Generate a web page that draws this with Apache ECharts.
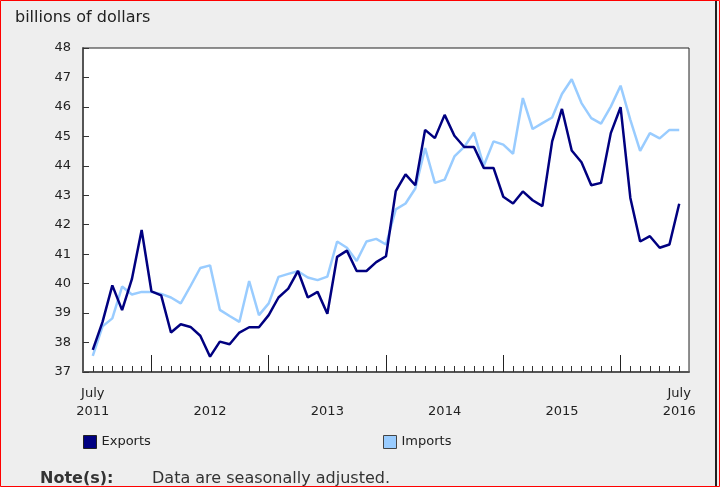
<!DOCTYPE html>
<html>
<head>
<meta charset="utf-8">
<title>Exports and imports</title>
<script src="https://cdn.jsdelivr.net/npm/echarts@6/dist/echarts.min.js"></script>
<style>
  html, body { margin: 0; padding: 0; background: #eeeeee; }
  #chart { width: 720px; height: 487px; }
</style>
</head>
<body>
<div id="chart"></div>
<script>
// monthly, July 2011 .. July 2016 (index 0 .. 60)
const exportsData = [
  37.75, 38.7, 39.94, 39.1, 40.15, 41.82, 39.74, 39.6, 38.34, 38.62, 38.53, 38.23,
  37.52, 38.03, 37.94, 38.34, 38.52, 38.52, 38.93, 39.53, 39.83, 40.43, 39.53, 39.72,
  38.98, 40.91, 41.12, 40.43, 40.43, 40.73, 40.93, 43.14, 43.71, 43.34, 45.22, 44.94,
  45.73, 45.02, 44.64, 44.64, 43.93, 43.93, 42.95, 42.72, 43.13, 42.83, 42.63, 44.83,
  45.93, 44.52, 44.12, 43.34, 43.42, 45.11, 45.99, 42.91, 41.43, 41.61, 41.22, 41.33,
  42.71
];
const importsData = [
  37.55, 38.55, 38.82, 39.9, 39.63, 39.72, 39.72, 39.65, 39.53, 39.33, 39.92, 40.53,
  40.62, 39.11, 38.9, 38.7, 40.09, 38.93, 39.33, 40.23, 40.33, 40.42, 40.21, 40.12,
  40.24, 41.43, 41.22, 40.77, 41.43, 41.52, 41.33, 42.52, 42.72, 43.23, 44.6, 43.42,
  43.53, 44.32, 44.64, 45.13, 44.0, 44.83, 44.72, 44.41, 46.3, 45.25, 45.45, 45.64,
  46.44, 46.94, 46.13, 45.62, 45.43, 46.01, 46.72, 45.56, 44.51, 45.11, 44.93, 45.22,
  45.22
];

// x tick positions (month index)
const monthTicks = exportsData.map((v, i) => i);
const januaryTicks = [6, 18, 30, 42, 54];
const labelPositions = [0, 12, 24, 36, 48, 60];
const labelTexts = ['July\n2011', '\n2012', '\n2013', '\n2014', '\n2015', 'July\n2016'];

const chart = echarts.init(document.getElementById('chart'));
const font = 'DejaVu Sans, Verdana, sans-serif';

const option = {
  backgroundColor: '#eeeeee',
  animation: false,
  textStyle: { fontFamily: font },
  title: {
    text: 'billions of dollars',
    left: 15,
    top: 10,
    padding: 0,
    textStyle: { fontFamily: font, fontSize: 16, fontWeight: 'normal', color: '#222' }
  },
  grid: {
    left: 83, top: 48, width: 606, height: 324,
    show: true, backgroundColor: '#ffffff', borderColor: '#222', borderWidth: 1
  },
  legend: [
    {
      left: 83, top: 435, padding: 0, itemWidth: 13, itemHeight: 13, itemGap: 6,
      icon: 'rect', data: ['Exports'],
      itemStyle: { borderColor: '#222', borderWidth: 1 },
      textStyle: { fontFamily: font, fontSize: 13, color: '#222' }
    },
    {
      left: 383, top: 435, padding: 0, itemWidth: 13, itemHeight: 13, itemGap: 6,
      icon: 'rect', data: ['Imports'],
      itemStyle: { borderColor: '#444', borderWidth: 1 },
      textStyle: { fontFamily: font, fontSize: 13, color: '#222' }
    }
  ],
  xAxis: [
    {
      type: 'value', min: -1, max: 61, position: 'bottom',
      splitLine: { show: false },
      axisLine: { onZero: false, lineStyle: { color: '#555', width: 2 } },
      axisTick: { inside: true, length: 6, customValues: monthTicks, lineStyle: { color: '#333' } },
      axisLabel: {
        customValues: labelPositions,
        formatter: (v) => labelTexts[labelPositions.indexOf(v)],
        margin: 13, lineHeight: 18, fontSize: 13, color: '#222', fontFamily: font
      }
    },
    {
      type: 'value', min: -1, max: 61, position: 'bottom',
      splitLine: { show: false },
      axisLine: { show: false, onZero: false },
      axisTick: { inside: true, length: 17, customValues: januaryTicks, lineStyle: { color: '#222' } },
      axisLabel: { show: false }
    }
  ],
  yAxis: {
    type: 'value', min: 37, max: 48, interval: 1,
    splitLine: { show: false },
    axisLine: { show: true, onZero: false, lineStyle: { color: '#555', width: 2 } },
    axisTick: { inside: true, length: 6, lineStyle: { color: '#333' } },
    axisLabel: { margin: 12, fontSize: 13, color: '#222', fontFamily: font }
  },
  series: [
    {
      name: 'Imports', type: 'line', xAxisIndex: 0, showSymbol: false,
      color: '#99ccff',
      lineStyle: { width: 2.5, color: '#99ccff' },
      data: importsData.map((v, i) => [i, v])
    },
    {
      name: 'Exports', type: 'line', xAxisIndex: 0, showSymbol: false,
      color: '#000080',
      lineStyle: { width: 2.5, color: '#000080' },
      data: exportsData.map((v, i) => [i, v])
    }
  ],
  graphic: [
    {
      type: 'text', left: 40, top: 471,
      style: { text: 'Note(s):', font: 'bold 16px ' + font, fill: '#333' }
    },
    {
      type: 'text', left: 152, top: 471,
      style: { text: 'Data are seasonally adjusted.', font: '16px ' + font, fill: '#333' }
    },
    {
      type: 'line', shape: { x1: 716, y1: 0, x2: 716, y2: 487 },
      style: { stroke: '#222', lineWidth: 2 }
    },
    {
      type: 'rect', shape: { x: 0.5, y: 0.5, width: 719, height: 486 },
      style: { fill: 'none', stroke: '#ff0000', lineWidth: 1 }
    }
  ]
};

chart.setOption(option);
window.addEventListener('resize', chart.resize);
</script>
</body>
</html>
